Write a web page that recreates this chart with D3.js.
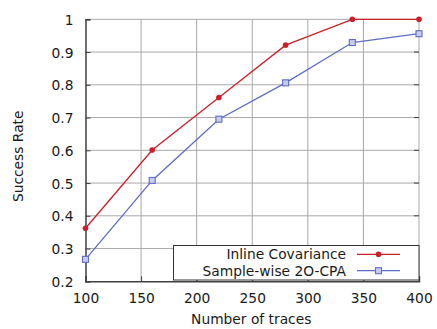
<!DOCTYPE html>
<html>
<head>
<meta charset="utf-8">
<script src="https://cdn.jsdelivr.net/npm/d3@7"></script>
<style>
  html, body { margin: 0; padding: 0; background: #fff; }
  svg { display: block; font-family: "DejaVu Sans", sans-serif; }
</style>
</head>
<body>
<svg id="chart" width="437" height="329"></svg>
<script>
// Number of traces on the x axis
const traces = [100, 160, 220, 280, 340, 400];
// Success rate of each attack
const inlineCovariance = [0.362, 0.601, 0.761, 0.921, 1.0, 1.0];
const sampleWise2OCPA = [0.267, 0.508, 0.695, 0.806, 0.929, 0.956];
const seriesNames = ["Inline Covariance", "Sample-wise 2O-CPA"];
const xTicks = [100, 150, 200, 250, 300, 350, 400];
const yTicks = [0.2, 0.3, 0.4, 0.5, 0.6, 0.7, 0.8, 0.9, 1];

const FS = 13.8;
const svg = d3.select("#chart");
const m = { left: 85.5, right: 419, top: 19.3, bottom: 281.3 };

const x = d3.scaleLinear().domain([100, 400]).range([m.left, m.right]);
const y = d3.scaleLinear().domain([0.2, 1]).range([m.bottom, m.top]);

// grid
const grid = svg.append("g").attr("stroke", "#a8a8a8").attr("stroke-width", 1);
xTicks.slice(1, -1).forEach(t => {
  grid.append("line").attr("x1", x(t)).attr("x2", x(t)).attr("y1", m.top).attr("y2", m.bottom);
});
yTicks.slice(1, -1).forEach(t => {
  grid.append("line").attr("x1", m.left).attr("x2", m.right).attr("y1", y(t)).attr("y2", y(t));
});

// frame: top/right light, left/bottom dark
svg.append("line").attr("x1", m.left).attr("x2", m.right).attr("y1", m.top).attr("y2", m.top)
  .attr("stroke", "#a8a8a8");
svg.append("line").attr("x1", m.right).attr("x2", m.right).attr("y1", m.top).attr("y2", m.bottom)
  .attr("stroke", "#a8a8a8");

// axes with inward ticks
const fmt = d => d3.format("~g")(d);
const xAxis = d3.axisBottom(x).tickValues(xTicks).tickSize(-5).tickPadding(12).tickFormat(fmt);
const yAxis = d3.axisLeft(y).tickValues(yTicks).tickSize(-5).tickPadding(12).tickFormat(fmt);
const gx = svg.append("g").attr("transform", `translate(0,${m.bottom})`).call(xAxis);
const gy = svg.append("g").attr("transform", `translate(${m.left},0)`).call(yAxis);
[gx, gy].forEach(g => {
  g.select(".domain").attr("stroke", "#404040").attr("stroke-width", 1.5);
  g.selectAll(".tick line").attr("stroke", "#404040");
  g.selectAll(".tick text").attr("fill", "#1a1a1a").attr("font-size", FS)
    .attr("font-family", "DejaVu Sans, sans-serif");
});
gy.selectAll(".tick text").attr("dy", "0.36em");
// right-side mirror ticks
yTicks.slice(1, -1).forEach(t => {
  svg.append("line").attr("x1", m.right).attr("x2", m.right - 5).attr("y1", y(t)).attr("y2", y(t))
    .attr("stroke", "#404040");
});

// axis titles
svg.append("text").attr("x", (m.left + m.right) / 2 - 1).attr("y", 324)
  .attr("text-anchor", "middle").attr("font-size", FS).attr("fill", "#1a1a1a").text("Number of traces");
svg.append("text").attr("transform", `translate(23,${(m.top + m.bottom) / 2 + 6}) rotate(-90)`)
  .attr("text-anchor", "middle").attr("font-size", FS).attr("fill", "#1a1a1a").text("Success Rate");

const red = "#cc1f2a", blue = "#5f6cc8";
const line = d3.line().x((d, i) => x(traces[i])).y(d => y(d));

// sample-wise series
svg.append("path").datum(sampleWise2OCPA).attr("d", line).attr("fill", "none")
  .attr("stroke", blue).attr("stroke-width", 1.3);
svg.selectAll(".sq").data(sampleWise2OCPA).join("rect")
  .attr("x", (d, i) => x(traces[i]) - 3).attr("y", d => y(d) - 3)
  .attr("width", 6).attr("height", 6)
  .attr("fill", "#c8ccee").attr("stroke", blue).attr("stroke-width", 1.1);

// inline covariance series
svg.append("path").datum(inlineCovariance).attr("d", line).attr("fill", "none")
  .attr("stroke", red).attr("stroke-width", 1.3);
svg.selectAll(".dot").data(inlineCovariance).join("circle")
  .attr("cx", (d, i) => x(traces[i])).attr("cy", d => y(d)).attr("r", 2.8).attr("fill", red);

// legend
const lg = svg.append("g");
lg.append("rect").attr("x", 173.5).attr("y", 245.5).attr("width", m.right - 173.5).attr("height", 34.5)
  .attr("fill", "#fff").attr("stroke", "#333").attr("stroke-width", 1);
const rows = [
  { name: seriesNames[0], color: red, y: 254.3, mark: "circle" },
  { name: seriesNames[1], color: blue, y: 270.7, mark: "rect" }
];
rows.forEach(r => {
  lg.append("text").attr("x", 346).attr("y", r.y).attr("dy", "0.36em").attr("text-anchor", "end")
    .attr("font-size", FS).attr("fill", "#1a1a1a").text(r.name);
  lg.append("line").attr("x1", 357).attr("x2", 400).attr("y1", r.y).attr("y2", r.y)
    .attr("stroke", r.color).attr("stroke-width", 1.3);
  if (r.mark === "circle") {
    lg.append("circle").attr("cx", 378.5).attr("cy", r.y).attr("r", 2.8).attr("fill", r.color);
  } else {
    lg.append("rect").attr("x", 375.5).attr("y", r.y - 3).attr("width", 6).attr("height", 6)
      .attr("fill", "#c8ccee").attr("stroke", r.color).attr("stroke-width", 1.1);
  }
});
</script>
</body>
</html>
